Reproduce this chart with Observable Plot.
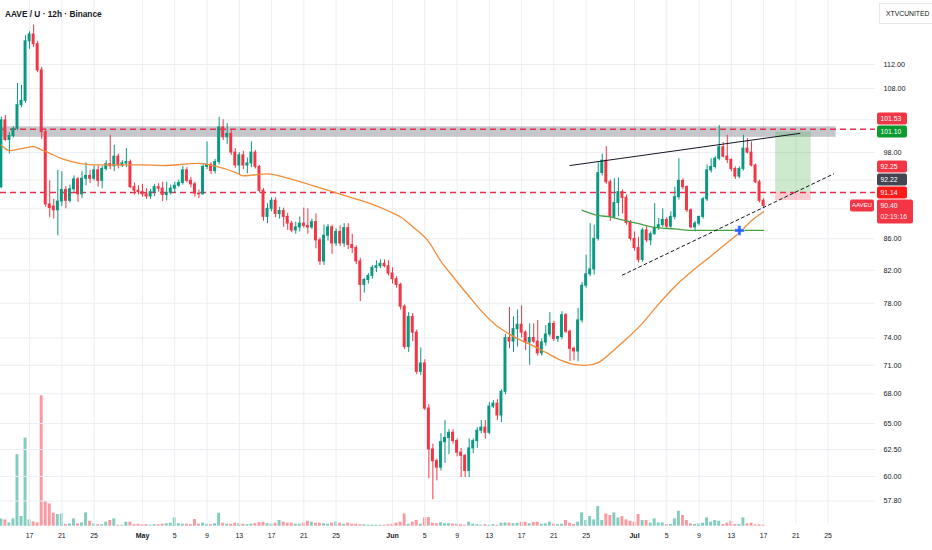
<!DOCTYPE html>
<html>
<head>
<meta charset="utf-8">
<script src="https://cdn.jsdelivr.net/npm/d3@7"></script>
<script src="https://cdn.jsdelivr.net/npm/@observablehq/plot@0.6"></script>
<style>
html,body{margin:0;padding:0;background:#fff;}
#chart{position:relative;width:932px;height:550px;overflow:hidden;font-family:"Liberation Sans",Arial,sans-serif;}
#chart svg{position:absolute;left:0;top:0;}
#title{position:absolute;left:5px;top:9px;font-size:8.3px;font-weight:700;color:#131722;line-height:10px;z-index:5;white-space:nowrap;}
#brand{position:absolute;left:879px;top:3px;width:47px;height:19px;border:1px solid #e6e8ee;border-right:none;background:#fff;font-size:6.8px;line-height:19px;padding-left:6px;color:#131722;z-index:5;white-space:nowrap;}
</style>
</head>
<body>
<div id="chart">
  <div id="title">AAVE / U · 12h · Binance</div>
  <div id="brand">XTVCUNITED</div>
</div>
<script>
// ---- 12h candles, first candle Apr 13 12:00 UTC ----
const firstCandle = Date.UTC(2026, 3, 13, 12);
const opens = [
93.0,102.9,99.9,100.5,101.6,105.3,106.0,116.0,117.2,115.5,
111.0,101.1,90.6,90.3,89.8,91.0,92.6,91.1,92.7,94.1,
92.0,94.2,94.6,94.2,95.4,93.9,95.6,96.3,96.0,97.4,
96.1,96.4,96.6,93.0,92.5,92.3,92.0,91.7,92.3,93.0,
92.8,91.9,92.2,92.8,93.2,93.6,95.4,93.9,93.4,92.1,
92.0,95.9,96.2,95.3,96.6,101.8,100.3,100.8,98.0,96.1,
97.6,96.1,96.4,98.0,95.9,92.5,88.9,90.0,91.1,89.3,
89.7,88.9,88.0,87.1,87.5,88.0,87.7,87.5,88.2,85.8,
83.1,86.4,87.5,85.4,86.9,85.4,87.4,85.2,84.8,83.1,
80.2,80.8,81.3,82.3,82.5,82.8,82.5,81.6,80.9,80.2,
77.6,73.0,76.4,74.6,70.3,71.2,66.5,62.5,61.4,60.8,
63.2,63.6,64.1,63.3,62.2,61.9,60.5,62.6,63.3,64.3,
64.6,64.1,66.7,67.0,65.8,68.2,74.0,73.6,75.0,75.5,
74.6,73.5,74.0,73.6,72.3,73.5,74.4,75.6,73.9,74.1,
76.6,74.7,72.8,72.5,76.0,80.1,81.5,82.1,86.0,95.0,
96.8,93.7,88.9,90.8,92.3,91.5,88.1,86.0,84.8,83.3,
87.1,85.8,86.6,87.4,87.8,88.5,87.6,88.9,91.6,93.9,
93.0,89.8,87.5,88.0,88.9,91.3,95.4,95.9,97.1,98.8,
97.4,96.9,95.6,94.5,95.6,98.6,98.0,96.1,93.7,91.1];
const highs = [
103.4,103.7,101.0,101.9,108.8,108.5,117.0,117.7,118.9,116.0,
111.5,101.5,93.9,91.3,95.4,95.2,93.1,93.3,94.6,94.4,
95.2,96.5,95.4,96.0,96.0,96.0,96.8,100.6,99.1,97.8,
96.8,98.6,96.9,93.6,93.2,93.4,92.8,92.7,93.4,93.5,
93.7,93.7,93.3,93.7,94.0,96.0,95.8,94.4,93.7,92.6,
96.4,99.6,96.5,97.0,103.4,103.0,102.4,101.3,98.6,98.0,
98.2,97.2,99.6,98.3,96.1,92.8,90.7,91.5,91.5,90.2,
90.1,89.4,88.3,88.2,88.9,90.1,90.0,88.6,89.3,86.1,
87.8,87.9,87.8,87.3,87.7,88.0,88.0,86.6,85.1,83.5,
81.0,81.6,82.6,83.2,83.3,83.3,83.2,82.3,81.2,80.4,
77.8,76.9,76.8,74.9,72.9,71.6,66.9,63.0,61.6,64.0,
65.3,64.4,64.4,63.5,62.6,62.0,63.5,63.5,64.6,65.3,
65.3,67.1,67.3,67.4,68.4,74.4,77.5,76.4,77.2,77.7,
74.8,75.6,75.6,76.0,73.9,75.4,76.9,75.9,74.2,77.0,
76.8,74.9,73.0,77.4,80.5,83.9,88.0,87.8,96.5,97.8,
98.9,94.0,94.2,94.3,92.6,91.9,88.4,86.9,86.2,87.4,
87.6,86.9,90.7,88.7,90.0,88.8,89.6,93.0,97.1,94.2,
93.2,90.0,88.3,89.0,91.6,96.2,97.1,97.4,102.1,99.5,
100.6,97.1,95.9,95.9,100.6,100.1,99.6,96.3,94.0,91.4];
const lows = [
92.8,99.7,97.8,100.2,101.3,104.9,105.6,114.6,114.9,110.6,
100.0,90.2,88.8,88.6,86.4,90.3,90.0,90.8,92.3,90.9,
91.4,93.2,93.5,93.9,93.0,92.8,95.3,95.5,95.2,95.6,
95.8,95.8,92.8,91.9,91.9,91.6,91.3,91.3,91.7,92.3,
91.0,91.1,91.9,92.2,93.0,93.3,93.6,92.9,91.6,91.4,
91.9,95.5,94.8,94.9,96.2,99.8,99.2,97.6,95.7,94.8,
95.5,94.9,95.8,95.6,92.2,88.3,88.0,89.6,88.8,88.6,
87.5,87.1,86.8,86.6,86.9,87.4,86.6,87.2,84.7,82.6,
82.6,85.7,84.0,85.0,85.0,84.9,84.6,84.1,82.7,78.2,
79.2,80.3,80.9,81.7,82.2,82.3,81.3,80.3,79.8,77.2,
72.7,72.4,73.6,70.0,69.9,66.3,59.8,57.9,59.6,60.5,
61.2,62.0,63.0,61.8,59.9,59.9,59.9,62.1,62.6,64.0,
63.5,63.9,66.5,65.3,65.1,67.9,72.8,72.4,73.0,74.0,
72.6,71.0,73.4,72.0,72.0,73.1,74.1,73.6,73.5,73.8,
74.5,71.4,71.5,71.4,75.7,79.8,81.2,81.4,85.7,94.6,
93.4,88.3,88.6,88.9,89.3,87.8,85.7,84.4,82.9,83.0,
85.5,85.1,86.5,87.1,87.5,87.3,87.4,88.5,91.2,92.6,
89.5,87.3,86.9,87.7,88.6,91.0,95.0,95.6,96.8,97.2,
96.4,95.2,94.1,94.2,95.3,97.8,95.9,93.5,90.8,90.0];
const closes = [
102.9,99.9,100.5,101.6,105.3,106.0,116.0,117.2,115.5,111.0,
101.1,90.6,90.1,89.8,91.0,92.6,91.1,92.7,94.1,92.0,
94.2,94.6,94.2,95.4,93.9,95.6,96.3,96.0,97.4,96.1,
96.4,96.6,93.0,92.5,92.3,92.0,91.7,92.3,93.0,92.8,
91.9,92.2,92.8,93.2,93.6,95.4,93.9,93.4,92.1,92.0,
95.9,96.2,95.3,96.6,101.8,100.3,100.8,98.0,96.1,97.6,
96.1,96.4,98.0,95.9,92.5,88.9,90.0,91.1,89.3,89.7,
88.9,88.0,87.1,87.5,88.0,87.7,87.5,88.2,85.8,83.1,
86.4,87.5,85.4,86.9,85.4,87.4,85.2,84.8,83.1,80.2,
80.8,81.3,82.3,82.5,82.8,82.5,81.6,80.9,80.2,77.6,
73.0,76.4,74.6,70.3,71.2,66.5,62.5,61.4,60.8,63.2,
63.6,64.1,63.3,62.2,61.9,60.5,62.6,63.3,64.3,64.6,
64.1,66.7,67.0,65.8,68.2,74.0,73.6,75.0,75.5,74.6,
73.5,74.0,73.6,72.3,73.5,74.4,75.6,73.9,74.1,76.6,
74.7,72.8,72.5,76.0,80.1,81.5,82.1,86.0,95.0,96.8,
93.7,88.9,90.8,92.3,91.5,88.1,86.0,84.8,83.3,87.1,
85.8,86.6,87.4,87.8,88.5,87.6,88.9,91.6,93.9,93.0,
89.8,87.5,88.0,88.9,91.3,95.4,95.9,97.1,98.8,97.4,
96.9,95.6,94.5,95.6,98.6,98.0,96.1,93.7,91.1,90.40];
const volumesK = [
7.3,6.3,3.3,7.3,71.7,9.7,88.3,6.3,4.3,3.3,
130.7,25,22.3,13,11.7,12.3,1.7,2.3,7.3,2.3,
3.3,13.3,5,2.3,1.5,1.5,4,5.7,7.3,1,
1,4,4,1.5,2,1.5,1.5,1,1.5,1.5,
2,2.5,3,8.3,2.5,2,2,1.5,6.7,2,
3,2,1.5,2.5,13,3,2,2,3,2.5,
2,1.5,2,2.5,3.5,4,2.5,2,3,5.7,
4,3,3,2,2,3,5,4,3,3,
2.5,2,3,4,3,2,3,2,2,1.5,
1.5,1,1,1,1,1,1.5,2,3,4,
12.3,2,4,5.7,2,8.3,8.7,3,2.5,3.5,
2.5,2.5,2,2,1.5,1,4,2,1.5,1,
1.5,1,1.5,1,3,3.3,3,2.5,3,4,
4,2.5,3.7,4,2,2.5,4,2.3,1.5,2,
5.7,3,1.7,4,13.3,5.7,9.7,6.3,19.7,5.7,
12.3,10.7,13.3,8.3,9.7,6.3,5,4,11.7,5.7,
5.7,3,7.3,3.3,3.3,1.7,1.7,7.3,15,10.7,
5.7,2.3,1.7,2.3,3,8.3,4,5.7,5,1.7,
3,5,1.7,1.7,8.3,2.3,3,1.3,1.3,1];

// ---- moving average (orange), read at candle indices ----
const maIdx = [0,2,5,8,10,12,15,18,23,29,35,40,49,53,58,60,62,66,71,74,79,83,87,91,96,99,102,106,109,112,116,119,122,125,129,132,135,139,142,145,148,151,154,158,163,167,172,176,180,183,186,189];
const maVal = [99.1,98.3,98.6,98.9,98.4,97.9,97.1,96.6,96.2,96.2,96.2,96.1,96.4,96.0,95.1,94.6,94.7,94.9,94.3,93.8,92.9,92.2,91.5,90.8,89.7,88.9,87.6,85.6,83.1,81.2,78.8,77.1,75.7,74.7,73.7,73.1,72.4,71.5,71.1,71.0,71.3,72.3,73.5,75.2,77.9,80.0,82.2,83.8,85.5,86.8,88.4,89.6];
// ---- green anchored line ----
const greenIdx = [144,148,151,154,158,162,167,172,180,189];
const greenVal = [89.8,89.1,88.9,88.5,88.0,87.5,87.3,87.1,87.1,87.1];
// ---- drawings ----
const topTrendIdx = [141, 198], topTrendVal = [96.1, 100.9];
const lowTrendIdx = [154, 206.4], lowTrendVal = [81.4, 94.9];
const crossIdx = 183, crossVal = 87.1;
const zoneEndIdx = 207, zoneLo = 100.3, zoneHi = 101.9;
const hLines = [101.53, 92.25];
const longIdx = [192, 200.8];
const longTarget = 101.10, longEntry = 92.22, longStop = 91.14;
// ---- axis ticks ----
const yLabelTicks = [57.8, 60, 62.5, 65, 68, 71, 74, 78, 82, 86, 98, 108, 112];
const yGridTicks = [57.8, 60, 62.5, 65, 68, 71, 74, 78, 82, 86, 90, 94, 98, 103, 108, 112];
const dayTicks = ["2026-04-17","2026-04-21","2026-04-25","2026-05-05","2026-05-09","2026-05-13","2026-05-17","2026-05-21","2026-05-25","2026-06-05","2026-06-09","2026-06-13","2026-06-17","2026-06-21","2026-06-25","2026-07-05","2026-07-09","2026-07-13","2026-07-17","2026-07-21","2026-07-25"];
const monthTicks = ["2026-05-01","2026-06-01","2026-07-01"];
const monthNames = ["May","Jun","Jul"];
// ---- axis price tags ----
const tags = [
  {price: 101.53, label: "101.53", fill: "#f23645"},
  {price: 101.10, label: "101.10", fill: "#0a9a2e"},
  {price: 92.25, label: "92.25", fill: "#f23645"},
  {price: 92.22, label: "92.22", fill: "#434651"},
  {price: 91.14, label: "91.14", fill: "#ff1a1a"},
  {price: 90.40, label: "90.40", sub: "02:19:16", fill: "#f23645"}
];
const symbolTag = "AAVEU";

// ================= build =================
const H12 = 12 * 3600e3;
const at = i => new Date(firstCandle + i * H12);
const pd = s => new Date(s + "T00:00:00Z");
const UP = "#089981", DN = "#f23645";
const FONT = '"Liberation Sans", Arial, sans-serif';
const W = 932, H = 550, MR = 57;
const xDomain = [new Date(Date.UTC(2026,3,13,9,28)), new Date(Date.UTC(2026,6,30,21,0))];
const half = 4.4 * 3600e3;

const candles = opens.map((o, i) => ({
  t: at(i), o, h: highs[i], l: lows[i], c: closes[i], v: volumesK[i], up: closes[i] >= o
}));
const ma = maIdx.map((i, k) => ({t: at(i), v: maVal[k]}));
const green = greenIdx.map((i, k) => ({t: at(i), v: greenVal[k]}));
const topTrend = topTrendIdx.map((i, k) => ({t: at(i), v: topTrendVal[k]}));
const lowTrend = lowTrendIdx.map((i, k) => ({t: at(i), v: lowTrendVal[k]}));

const volPlot = Plot.plot({
  width: W, height: H, marginTop: 0, marginBottom: 24.3, marginLeft: 0, marginRight: MR,
  x: {type: "utc", domain: xDomain, axis: null},
  y: {domain: [0, 527], axis: null},
  marks: [
    Plot.rect(candles, {
      x1: d => new Date(+d.t - half), x2: d => new Date(+d.t + half),
      y1: 0, y2: "v",
      fill: d => d.up ? UP : DN, fillOpacity: 0.5
    })
  ]
});

const pricePlot = Plot.plot({
  width: W, height: H, marginTop: 0, marginBottom: 25, marginLeft: 0, marginRight: MR,
  style: {background: "transparent", fontFamily: FONT},
  x: {type: "utc", domain: xDomain, axis: null},
  y: {type: "log", domain: [55.70, 123.4], axis: null},
  marks: [
    Plot.gridY(yGridTicks, {stroke: "#eceef3", strokeOpacity: 1}),
    Plot.gridX(dayTicks.concat(monthTicks).map(pd), {stroke: "#eceef3", strokeOpacity: 1}),
    Plot.rect([0], {x1: () => xDomain[0], x2: () => at(zoneEndIdx), y1: () => zoneLo, y2: () => zoneHi,
      fill: "#9fa2aa", fillOpacity: 0.6}),
    Plot.rect([0], {x1: () => at(longIdx[0]), x2: () => at(longIdx[1]), y1: () => longEntry, y2: () => longTarget,
      fill: "#4caf50", fillOpacity: 0.28}),
    Plot.rect([0], {x1: () => at(longIdx[0]), x2: () => at(longIdx[1]), y1: () => longStop, y2: () => longEntry,
      fill: "#f23645", fillOpacity: 0.25}),
    Plot.ruleY(hLines, {stroke: "#e5304f", strokeWidth: 1.3, strokeDasharray: "6,4"}),
    Plot.ruleX(candles, {x: "t", y1: "l", y2: "h", stroke: d => d.up ? UP : DN, strokeWidth: 1}),
    Plot.rect(candles, {
      x1: d => new Date(+d.t - half), x2: d => new Date(+d.t + half),
      y1: d => Math.min(d.o, d.c), y2: d => Math.max(d.o, d.c),
      fill: d => d.up ? UP : DN, insetTop: -0.5, insetBottom: -0.5
    }),
    Plot.line(ma, {x: "t", y: "v", stroke: "#f28c38", strokeWidth: 1.3, curve: "monotone-x"}),
    Plot.line(green, {x: "t", y: "v", stroke: "#43a047", strokeWidth: 1.3, curve: "monotone-x"}),
    Plot.line(topTrend, {x: "t", y: "v", stroke: "#131722", strokeWidth: 1}),
    Plot.line(lowTrend, {x: "t", y: "v", stroke: "#131722", strokeWidth: 1, strokeDasharray: "3,3"}),
    Plot.dot([0], {x: () => at(crossIdx), y: () => crossVal, symbol: "cross", r: 4.2, fill: "#2962ff", stroke: "#ffffff", strokeWidth: 0.6}),
    Plot.text(yLabelTicks, {y: d => d, text: d => d.toFixed(2), frameAnchor: "right", dx: 8,
      textAnchor: "start", fontSize: 7.2, fill: "#131722"}),
    Plot.text(dayTicks.map(pd), {x: d => d, text: d => String(d.getUTCDate()), frameAnchor: "bottom",
      dy: 12, fontSize: 7, fill: "#131722"}),
    Plot.text(monthTicks.map(pd), {x: d => d, text: (d, i) => monthNames[i], frameAnchor: "bottom",
      dy: 12, fontSize: 7, fontWeight: "bold", fill: "#131722"})
  ]
});

const chart = document.getElementById("chart");
chart.appendChild(volPlot);
chart.appendChild(pricePlot);

// price tags on the axis, stacked bottom-up like the platform does
const ys = pricePlot.scale("y");
const g = d3.select(pricePlot).append("g")
  .attr("font-family", FONT).attr("font-size", 6.8).attr("text-anchor", "start");
const frameRight = W - MR;
let prevTop = Infinity;
tags.slice().sort((a, b) => a.price - b.price).forEach(t => {
  const hgt = t.sub ? 24 : 12;
  let cy = Math.min(ys.apply(t.price), prevTop - 1 - 6);
  const top = cy - 6;
  g.append("rect").attr("x", frameRight + 2).attr("y", top).attr("width", t.sub ? 36 : 30)
    .attr("height", hgt).attr("rx", 2).attr("fill", t.fill);
  g.append("text").attr("x", frameRight + 5.5).attr("y", cy).attr("dy", "0.35em")
    .attr("text-anchor", "start").attr("fill", "#fff").text(t.label);
  if (t.sub) {
    g.append("text").attr("x", frameRight + 5.5).attr("y", cy + 11).attr("dy", "0.35em")
      .attr("text-anchor", "start").attr("fill", "#fff").attr("fill-opacity", 0.92).text(t.sub);
    g.append("rect").attr("x", frameRight - 25).attr("y", cy - 6).attr("width", 24).attr("height", 12)
      .attr("rx", 2).attr("fill", t.fill);
    g.append("text").attr("x", frameRight - 13).attr("y", cy).attr("dy", "0.35em").attr("text-anchor", "middle")
      .attr("fill", "#fff").attr("font-size", 6).text(symbolTag);
  }
  prevTop = top;
});
</script>
</body>
</html>
